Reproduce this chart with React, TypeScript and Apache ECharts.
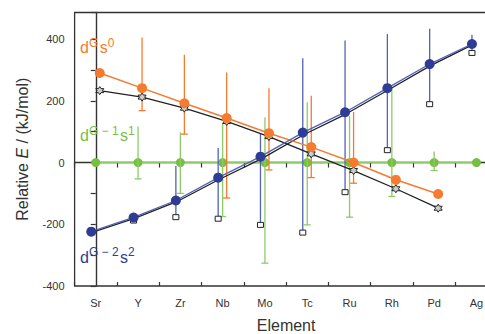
import React, { useEffect, useRef } from "react";
import * as echarts from "echarts";

const elements = ["Sr", "Y", "Zr", "Nb", "Mo", "Tc", "Ru", "Rh", "Pd", "Ag"];
const yTickValues = [-400, -200, 0, 200, 400];

const orangeVals = [290, 241, 192, 144, 95, 50, 0, -56, -102, null];
const orangeHigh = [null, 405, 349, 292, 241, 216, 164, null, null, null];
const orangeLow = [null, 168, 92, -115, -24, -49, -67, null, null, null];

const greenVals = [0, 0, 0, 0, 0, 0, 0, 0, 0, 0];
const greenHigh = [null, 117, 97, 128, 147, 195, 151, 241, 36, null];
const greenLow = [null, -53, -100, -175, -326, -202, -177, -110, -26, null];

const blueVals = [-224, -178, -123, -49, 19, 97, 163, 241, 319, 384];
const blueHigh = [null, null, -11, 47, 95, 338, 395, 416, 433, 414];
const blueLow = [null, -188, -177, -182, -202, -227, -96, 40, 189, 355];

const starVals = [233, 212, 176, 133, 84, 28, -26, -85, -148, null];
const refVals = [-226, -181, -127, -55, 12, 90, 157, 235, 314, 382];

const FONT = "'Liberation Sans', Arial, Helvetica, sans-serif";
const ORANGE = "#F47B30";
const GREEN_DOT = "#77BF44";
const GREEN_LINE = "#8DCB68";
const BLUE_DOT = "#2F3C96";
const BLUE_LINE = "#5262B4";
const BLACK = "#222";

const OFF_ORANGE = 0.095;
const OFF_BLUE = -0.106;
const OFF_GREEN = 0;

const STAR =
  "path://M0,-10 L2.9,-5 L8.66,-5 L5.8,0 L8.66,5 L2.9,5 L0,10 L-2.9,5 L-8.66,5 L-5.8,0 L-8.66,-5 L-2.9,-5 Z";

function pts(vals: (number | null)[], off: number) {
  const out: number[][] = [];
  vals.forEach((v, i) => {
    if (v !== null) out.push([i + off, v]);
  });
  return out;
}

function errData(vals: (number | null)[], hi: (number | null)[], lo: (number | null)[], off: number) {
  const out: number[][] = [];
  lo.forEach((l, i) => {
    if (l === null) return;
    const h = hi[i] !== null ? (hi[i] as number) : (vals[i] as number);
    out.push([i + off, l, h]);
  });
  return out;
}

function errSeries(data: number[][], color: string, kind: "cap" | "square", z: number) {
  return {
    type: "custom",
    xAxisIndex: 2,
    yAxisIndex: 0,
    z,
    clip: false,
    data,
    renderItem: (params: any, api: any) => {
      const x = api.value(0);
      const lo = api.value(1);
      const hi = api.value(2);
      const top = api.coord([x, hi]);
      const bot = api.coord([x, lo]);
      const children: any[] = [
        {
          type: "line",
          shape: { x1: top[0], y1: top[1], x2: bot[0], y2: bot[1] },
          style: { stroke: color, lineWidth: 1.3 },
        },
      ];
      if (kind === "cap") {
        children.push({
          type: "line",
          shape: { x1: bot[0] - 3.5, y1: bot[1], x2: bot[0] + 3.5, y2: bot[1] },
          style: { stroke: color, lineWidth: 1.3 },
        });
      } else {
        children.push({
          type: "rect",
          shape: { x: bot[0] - 3, y: bot[1] - 2.5, width: 6, height: 5 },
          style: { fill: "#fff", stroke: "#222", lineWidth: 1 },
        });
      }
      return { type: "group", children };
    },
  };
}

function label(sup1: string, sup2: string, color: string, y: number) {
  return {
    type: "text",
    x: 80,
    y,
    z: 100,
    style: {
      text: `{b|d}{p|${sup1}}{s|s}{p|${sup2}}`,
      verticalAlign: "top",
      fill: color,
      rich: {
        b: { fontSize: 16, lineHeight: 22, verticalAlign: "middle", fontFamily: FONT, fill: color },
        s: {
          fontSize: 16,
          lineHeight: 22,
          verticalAlign: "middle",
          fontFamily: FONT,
          fill: color,
          padding: [0, 0, 0, 1.5],
        },
        p: { fontSize: 12, lineHeight: 11, verticalAlign: "top", fontFamily: FONT, fill: color },
      },
    },
  };
}

export default function App() {
  const ref = useRef<HTMLDivElement>(null);
  useEffect(() => {
    if (!ref.current) return;
    const chart = echarts.init(ref.current, undefined, { renderer: "svg" });
    const option: any = {
      animation: false,
      backgroundColor: "#fff",
      textStyle: { fontFamily: FONT },
      grid: {
        left: 74.6,
        top: 12.5,
        width: 423,
        bottom: 48,
        containLabel: false,
        outerBoundsMode: "none",
        show: true,
        borderColor: "#333",
        borderWidth: 1.3,
      },
      xAxis: [
        {
          type: "category",
          data: elements,
          boundaryGap: true,
          position: "bottom",
          axisLine: { lineStyle: { color: "#333", width: 1.4 } },
          axisTick: { show: true, length: 5, interval: 0, lineStyle: { color: "#333", width: 1.2 } },
          axisLabel: { color: "#333", fontSize: 11, margin: 11, interval: 0, fontFamily: FONT },
          splitLine: { show: false },
          name: "Element",
          nameLocation: "middle",
          nameGap: 31,
          nameTextStyle: { fontSize: 16, color: "#333", fontFamily: FONT },
        },
        {
          type: "category",
          data: elements,
          boundaryGap: true,
          position: "bottom",
          axisLine: { show: false },
          axisTick: { show: true, inside: true, length: 4, interval: 0, lineStyle: { color: "#333", width: 1.2 } },
          axisLabel: { show: false },
          splitLine: { show: false },
        },
        {
          type: "value",
          min: -0.5,
          max: 9.5,
          show: false,
          splitLine: { show: false },
        },
      ],
      yAxis: {
        type: "value",
        min: -400,
        max: 486,
        interval: 100,
        axisLine: { show: true, lineStyle: { color: "#333", width: 1.4 } },
        axisTick: { show: true, length: 5, lineStyle: { color: "#333", width: 1.2 } },
        axisLabel: {
          color: "#333",
          fontSize: 11,
          margin: 10,
          fontFamily: FONT,
          formatter: (v: number) => (yTickValues.indexOf(v) >= 0 ? String(v) : ""),
        },
        splitLine: { show: false },
        name: "Relative {i|E} / (kJ/mol)",
        nameLocation: "middle",
        nameGap: 44,
        nameTextStyle: {
          fontSize: 16,
          color: "#333",
          fontFamily: FONT,
          rich: { i: { fontStyle: "italic", fontSize: 16, color: "#333", fontFamily: FONT } },
        },
      },
      graphic: [
        label("G", "0", ORANGE, 36.7),
        label("G − 1", "1", GREEN_DOT, 124.5),
        label("G − 2", "2", BLUE_DOT, 246),
      ],
      series: [
        {
          type: "line",
          xAxisIndex: 2,
          z: 1,
          data: pts(greenVals, OFF_GREEN),
          symbol: "circle",
          symbolSize: 9,
          lineStyle: { color: GREEN_LINE, width: 1.5 },
          itemStyle: { color: GREEN_DOT },
        },
        errSeries(errData(greenVals, greenHigh, greenLow, OFF_GREEN), GREEN_LINE, "cap", 2),
        errSeries(errData(orangeVals, orangeHigh, orangeLow, OFF_ORANGE), ORANGE, "cap", 2),
        errSeries(errData(blueVals, blueHigh, blueLow, OFF_BLUE), BLUE_LINE, "square", 2),
        {
          type: "line",
          xAxisIndex: 2,
          z: 3,
          data: pts(refVals, OFF_BLUE + 0.02),
          symbol: "none",
          lineStyle: { color: BLACK, width: 1.3 },
        },
        {
          type: "line",
          xAxisIndex: 2,
          z: 3,
          data: pts(starVals, OFF_ORANGE),
          symbol: STAR,
          symbolSize: 8,
          lineStyle: { color: BLACK, width: 1.3 },
          itemStyle: { color: "#ccc", borderColor: BLACK, borderWidth: 1 },
        },
        {
          type: "line",
          xAxisIndex: 2,
          z: 4,
          data: pts(orangeVals, OFF_ORANGE),
          symbol: "circle",
          symbolSize: 10,
          lineStyle: { color: ORANGE, width: 1.5 },
          itemStyle: { color: ORANGE },
        },
        {
          type: "line",
          xAxisIndex: 2,
          z: 5,
          data: pts(blueVals, OFF_BLUE),
          symbol: "circle",
          symbolSize: 10,
          lineStyle: { color: BLUE_LINE, width: 1.3 },
          itemStyle: { color: BLUE_DOT },
        },
      ],
    };
    chart.setOption(option);
    return () => chart.dispose();
  }, []);
  return (
    <div
      ref={ref}
      style={{ position: "fixed", left: 0, top: 0, width: 485, height: 334, background: "#fff" }}
    />
  );
}
